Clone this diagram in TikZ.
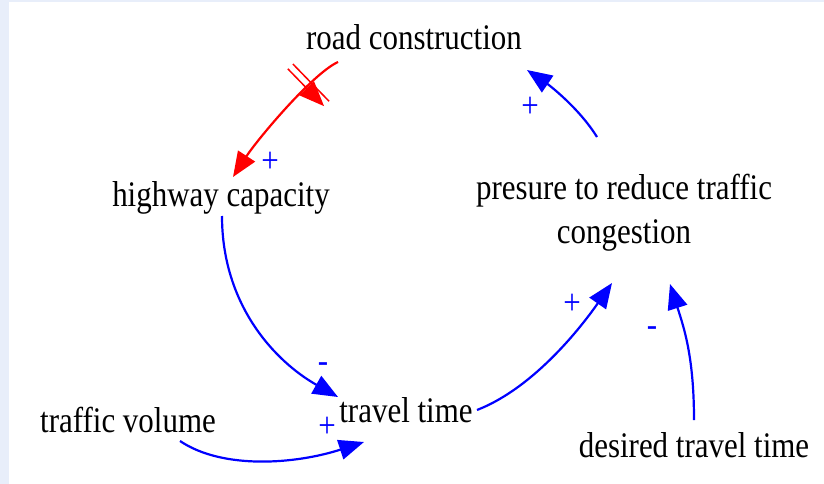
\documentclass[tikz,border=0pt]{standalone}
\usepackage{fontspec}
\setmainfont{Liberation Serif}[FakeStretch=0.86]
\usetikzlibrary{arrows.meta,calc,decorations.markings}
\definecolor{bgblue}{RGB}{232,238,250}
\begin{document}
\begin{tikzpicture}[x=1pt,y=-1pt,
  lbl/.style={font=\fontsize{36}{44}\selectfont, inner sep=0pt, anchor=base, text=black},
  pol/.style={font=\fontsize{36}{36}\selectfont, inner sep=0pt, text=blue},
  link/.style={draw=blue, line width=2.2pt, -{Triangle[length=25pt,width=20pt]}},
  dlink/.style={draw=red, line width=2.2pt, -{Triangle[length=25pt,width=20pt]}},
  delaymark/.style={postaction={decorate, decoration={markings, mark=at position 0.24 with {
      \draw[red, line width=1.5pt] (-3.5pt,-26pt) -- (-3.5pt,26pt) (3.5pt,-26pt) -- (3.5pt,26pt);}}}}
]
\fill[bgblue] (0,0) rectangle (824,484);
\fill[white] (9,2) rectangle (824,484);
\useasboundingbox (0,0) rectangle (824,484);

\node[lbl] (rc) at (414,50) {road construction};
\node[lbl] (hc) at (221,206) {highway capacity};
\node[lbl, align=center, anchor=center] (pr) at (624,213) {presure to reduce traffic\\congestion};
\node[lbl] (tt) at (406,422) {travel time};
\node[lbl] (tv) at (128,432) {traffic volume};
\node[lbl] (dt) at (694,457) {desired travel time};

% road construction -> highway capacity (delayed)
\draw[dlink, delaymark] ($(rc.base)+(-76,12)$) .. controls ($(rc.base)+(-102,24)$) and ($(hc.base)+(36,-66)$) .. ($(hc.base)+(12,-29)$);
\node[pol] (p1) at (270,162) {+};

% highway capacity -> travel time
\draw[link] ($(hc.base)+(1,10)$) .. controls ($(hc.base)+(1,100)$) and ($(tt.base)+(-130,-60)$) .. ($(tt.base)+(-68,-25)$);
\node[pol] (p2) at (323,368) {-};

% traffic volume -> travel time
\draw[link] ($(tv.base)+(52,9)$) .. controls ($(tv.base)+(95,38)$) and ($(tt.base)+(-110,42)$) .. ($(tt.base)+(-42,20)$);
\node[pol] (p3) at (327,427) {+};

% travel time -> presure
\draw[link] ($(tt.base)+(71,-12)$) .. controls ($(tt.base)+(130,-35)$) and ($(pr.center)+(-40,110)$) .. ($(pr.center)+(-12,70)$);
\node[pol] (p4) at (572,304) {+};

% desired travel time -> presure
\draw[link] ($(dt.base)+(0,-37)$) .. controls ($(dt.base)+(0,-100)$) and ($(pr.center)+(60,115)$) .. ($(pr.center)+(46,71)$);
\node[pol] (p5) at (652,332) {-};

% presure -> road construction
\draw[link] ($(pr.center)+(-27,-76)$) .. controls ($(pr.center)+(-45,-105)$) and ($(rc.base)+(135,35)$) .. ($(rc.base)+(113,20)$);
\node[pol] (p6) at (530,107) {+};
\end{tikzpicture}
\end{document}
